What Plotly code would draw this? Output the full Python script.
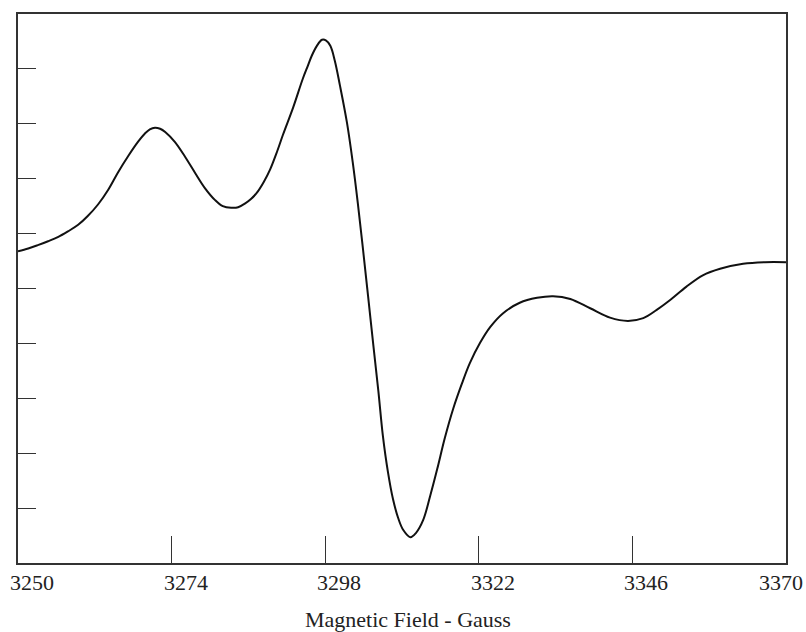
import plotly.graph_objects as go

# Magnetic field (Gauss) and signal (arbitrary units, 0-10 scale)
field = [3250.0, 3251.6, 3253.1, 3254.7, 3256.3, 3257.8, 3259.4, 3260.9, 3262.5, 3264.1,
         3265.6, 3267.2, 3268.8, 3269.8, 3270.6, 3271.4, 3272.2, 3273.0, 3274.5, 3276.1,
         3277.7, 3279.2, 3280.8, 3282.0, 3283.3, 3284.4, 3285.5, 3286.4, 3287.3, 3288.4,
         3289.4, 3290.5, 3291.4, 3293.0, 3294.5, 3295.3, 3295.9, 3296.7, 3297.5, 3298.1,
         3298.8, 3299.5, 3300.3, 3301.4, 3302.3, 3303.1, 3303.9, 3304.7, 3305.5, 3306.3,
         3307.0, 3307.8, 3308.6, 3309.4, 3310.2, 3311.3, 3312.2, 3313.3, 3314.4, 3315.5,
         3316.7, 3318.0, 3319.4, 3320.6, 3322.2, 3323.8, 3325.8, 3328.4, 3331.1, 3333.6,
         3336.3, 3339.4, 3342.5, 3345.3, 3347.7, 3349.8, 3351.9, 3354.4, 3357.0, 3359.7,
         3363.3, 3366.7, 3370.0]
signal = [5.68, 5.73, 5.79, 5.86, 5.94, 6.04, 6.16, 6.32, 6.53, 6.80,
          7.11, 7.41, 7.68, 7.82, 7.90, 7.93, 7.91, 7.85, 7.67, 7.40,
          7.10, 6.83, 6.61, 6.50, 6.47, 6.48, 6.55, 6.63, 6.74, 6.94,
          7.17, 7.50, 7.80, 8.30, 8.82, 9.06, 9.24, 9.42, 9.53, 9.52,
          9.42, 9.15, 8.70, 8.02, 7.30, 6.55, 5.72, 4.86, 3.99, 3.14,
          2.33, 1.66, 1.16, 0.82, 0.60, 0.47, 0.55, 0.78, 1.22, 1.71,
          2.28, 2.81, 3.28, 3.64, 4.01, 4.30, 4.55, 4.74, 4.83, 4.86,
          4.81, 4.64, 4.47, 4.41, 4.46, 4.61, 4.79, 5.03, 5.24, 5.36,
          5.45, 5.48, 5.48]

x_ticks = [3250, 3274, 3298, 3322, 3346, 3370]
x_tick_text = ["3250", "3274", "3298", "3322", "3346", "3370"]
y_ticks = [1, 2, 3, 4, 5, 6, 7, 8, 9]
x_title = "Magnetic Field - Gauss"

fig = go.Figure()
fig.add_trace(go.Scatter(
    x=field, y=signal, mode="lines",
    line=dict(color="#111111", width=2, shape="spline", smoothing=1.0),
    hoverinfo="skip", showlegend=False,
))

serif = "Liberation Serif, Times New Roman, serif"

fig.update_xaxes(
    range=[3250, 3370], tickvals=x_ticks[1:-1], showticklabels=False,
    ticks="inside", ticklen=27, tickwidth=1.2, tickcolor="#333",
    showline=True, linecolor="#333", linewidth=1.5, mirror=True,
    showgrid=False, zeroline=False,
)
fig.update_yaxes(
    range=[0, 10], tickvals=y_ticks, showticklabels=False,
    ticks="inside", ticklen=18, tickwidth=1.2, tickcolor="#333",
    showline=True, linecolor="#333", linewidth=1.5, mirror=True,
    showgrid=False, zeroline=False,
)

annotations = []
for i, (v, t) in enumerate(zip(x_ticks, x_tick_text)):
    last = i == len(x_ticks) - 1
    annotations.append(dict(
        x=v, y=0, xref="x", yref="paper", text=t, showarrow=False,
        xanchor="right" if last else "left", yanchor="top",
        xshift=19 if last else -10, yshift=-5,
        font=dict(family=serif, size=22, color="#222"),
    ))
annotations.append(dict(
    x=3310.9, y=0, xref="x", yref="paper", text=x_title, showarrow=False,
    xanchor="center", yanchor="top", yshift=-42,
    font=dict(family=serif, size=22, color="#222"),
))

fig.update_layout(
    width=806, height=632,
    margin=dict(l=18, r=20, t=14, b=69),
    paper_bgcolor="white", plot_bgcolor="white",
    annotations=annotations,
)

fig.write_html("out.html")
